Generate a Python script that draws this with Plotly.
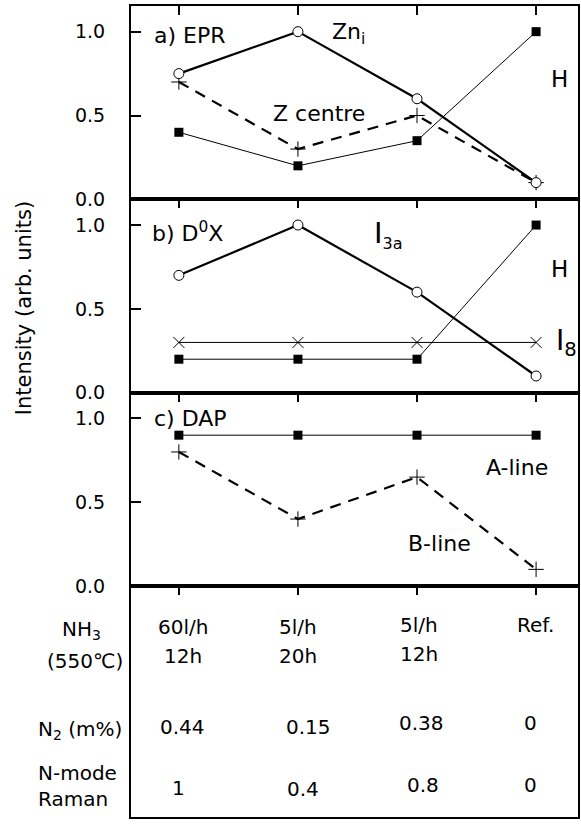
import plotly.graph_objects as go

# ---------------- data ----------------
samples = ["60l/h 12h", "5l/h 20h", "5l/h 12h", "Ref."]
xpos = [0, 1, 2, 3]

epr_zni = [0.75, 1.0, 0.6, 0.1]
epr_zcentre = [0.7, 0.3, 0.5, 0.1]
epr_h = [0.4, 0.2, 0.35, 1.0]

d0x_i3a = [0.7, 1.0, 0.6, 0.1]
d0x_i8 = [0.3, 0.3, 0.3, 0.3]
d0x_h = [0.2, 0.2, 0.2, 1.0]

dap_a = [0.9, 0.9, 0.9, 0.9]
dap_b = [0.8, 0.4, 0.65, 0.1]

nh3_flow = ["60l/h", "5l/h", "5l/h", "Ref."]
nh3_time = ["12h", "20h", "12h", ""]
n2_content = ["0.44", "0.15", "0.38", "0"]
raman_n = ["1", "0.4", "0.8", "0"]

ytick_vals = [0, 0.5, 1.0]
ytick_text = ["0.0", "0.5", "1.0"]

# ---------------- layout geometry ----------------
W, H = 581, 829
ML, MR, MT, MB = 131, 2, 6, 1
PH = H - MT - MB  # 822


def fy(py):
    return (H - MB - py) / PH


def fx(px):
    return (px - ML) / (W - ML - MR)


FONT = "DejaVu Sans"
XR = [-0.402, 3.352]
YR = [0, 1.153]

dom_a = [fy(202), 1.0]
dom_b = [fy(398), fy(202)]
dom_c = [fy(594), fy(398)]
dom_t = [0.0, fy(594)]

fig = go.Figure()

BLK = "black"


def line_trace(y, ax, width, dash, symbol, msize, mcolor, mlw):
    return go.Scatter(
        x=xpos, y=y, xaxis=ax[0], yaxis=ax[1], mode="lines+markers",
        line=dict(color=BLK, width=width, dash=dash),
        marker=dict(symbol=symbol, size=msize, color=mcolor,
                    line=dict(color=BLK, width=mlw)),
        showlegend=False, hoverinfo="skip", cliponaxis=False)


DASH = "11px,8px"
# panel a (EPR)
fig.add_trace(line_trace(epr_h, ("x", "y"), 1, "solid", "square", 9, BLK, 0))
fig.add_trace(line_trace(epr_zcentre, ("x", "y"), 2.2, DASH, "cross-thin", 11, BLK, 1))
fig.add_trace(line_trace(epr_zni, ("x", "y"), 2.2, "solid", "circle", 10, "white", 1))
# panel b (D0X)
fig.add_trace(line_trace(d0x_h, ("x2", "y2"), 1, "solid", "square", 9, BLK, 0))
fig.add_trace(line_trace(d0x_i8, ("x2", "y2"), 1, "solid", "x-thin", 11, BLK, 1))
fig.add_trace(line_trace(d0x_i3a, ("x2", "y2"), 2.2, "solid", "circle", 10, "white", 1))
# panel c (DAP)
fig.add_trace(line_trace(dap_a, ("x3", "y3"), 1, "solid", "square", 9, BLK, 0))
fig.add_trace(line_trace(dap_b, ("x3", "y3"), 2.2, DASH, "cross-thin", 11, BLK, 1))

axis_common_x = dict(range=XR, side="top", ticks="inside", ticklen=9, tickwidth=1.5,
                     tickcolor=BLK, tickvals=xpos, showticklabels=False,
                     showline=True, mirror=True, linewidth=2, linecolor=BLK,
                     showgrid=False, zeroline=False, fixedrange=True)
axis_common_y = dict(range=YR, ticks="inside", ticklen=10, tickwidth=1.5, tickcolor=BLK,
                     tickvals=ytick_vals, ticktext=ytick_text, ticklabelstandoff=20,
                     tickfont=dict(family=FONT, size=19, color=BLK),
                     showline=True, mirror=True, linewidth=2, linecolor=BLK,
                     showgrid=False, zeroline=False, fixedrange=True)

fig.update_layout(
    width=W, height=H,
    margin=dict(l=ML, r=MR, t=MT, b=MB, pad=0),
    paper_bgcolor="white", plot_bgcolor="white",
    font=dict(family=FONT, size=20, color=BLK),
    showlegend=False,
    xaxis=dict(axis_common_x, anchor="y", domain=[0, 1]),
    yaxis=dict(axis_common_y, anchor="x", domain=dom_a),
    xaxis2=dict(axis_common_x, anchor="y2", domain=[0, 1]),
    yaxis2=dict(axis_common_y, anchor="x2", domain=dom_b),
    xaxis3=dict(axis_common_x, anchor="y3", domain=[0, 1]),
    yaxis3=dict(axis_common_y, anchor="x3", domain=dom_c),
    xaxis4=dict(axis_common_x, anchor="y4", domain=[0, 1]),
    yaxis4=dict(range=[0, 1], domain=dom_t, anchor="x4", showticklabels=False,
                ticks="", showline=True, mirror=True, linewidth=2, linecolor=BLK,
                showgrid=False, zeroline=False, fixedrange=True),
)

ann = []


def A(text, x, y, xref, yref, size=22, xanchor="center", yanchor="middle", angle=0):
    ann.append(dict(text=text, x=x, y=y, xref=xref, yref=yref, showarrow=False,
                    xanchor=xanchor, yanchor=yanchor, textangle=angle,
                    font=dict(family=FONT, size=size, color=BLK)))


def dx(px):
    return (px - 179) / 119.33


# panel a labels
A("a) EPR", dx(152), (202 - 36) / 170, "x", "y", xanchor="left")
A("Zn<sub>i</sub>", dx(330), (202 - 34) / 170, "x", "y", xanchor="left")
A("Z centre", dx(271), (202 - 115) / 170, "x", "y", xanchor="left")
A("H", dx(560), (202 - 80) / 170, "x", "y", size=23)
# panel b labels
A("b) D<sup>0</sup>X", dx(150), (398 - 235) / 170, "x2", "y2", xanchor="left")
A("I<sub><span style='font-size:16px'>3a</span></sub>", dx(373), (398 - 238) / 170,
  "x2", "y2", size=29, xanchor="left")
A("H", dx(560), (398 - 273) / 170, "x2", "y2", size=23)
A("I<sub>8</sub>", dx(555), (398 - 347) / 170, "x2", "y2", size=28, xanchor="left")
# panel c labels
A("c) DAP", dx(152), (594 - 425) / 169, "x3", "y3", xanchor="left")
A("A-line", dx(518), (594 - 474) / 169, "x3", "y3")
A("B-line", dx(440), (594 - 551) / 169, "x3", "y3")

# y axis title
A("Intensity (arb. units)", fx(24), fy(312), "paper", "paper", size=21, angle=-90)

# table: row labels
A("NH<sub>3</sub>", fx(81), fy(638), "paper", "paper", size=20)
A("(550℃)", fx(85), fy(670), "paper", "paper", size=20)
A("N<sub>2</sub> (m%)", fx(80), fy(740), "paper", "paper", size=20)
A("N-mode", fx(77), fy(783), "paper", "paper", size=20)
A("Raman", fx(73), fy(810), "paper", "paper", size=20)

# table: cells
flow_px = [(183, 635), (298, 635), (420, 633), (536, 633)]
time_px = [(183, 665), (298, 665), (420, 663), (536, 663)]
n2_px = [(183, 737), (309, 737), (422, 733), (531, 733)]
ram_px = [(179, 799), (303, 800), (424, 796), (531, 796)]
for i in range(len(samples)):
    A(nh3_flow[i], dx(flow_px[i][0]), fy(flow_px[i][1]), "x4", "paper", size=20)
    if nh3_time[i]:
        A(nh3_time[i], dx(time_px[i][0]), fy(time_px[i][1]), "x4", "paper", size=20)
    A(n2_content[i], dx(n2_px[i][0]), fy(n2_px[i][1]), "x4", "paper", size=20)
    A(raman_n[i], dx(ram_px[i][0]), fy(ram_px[i][1]), "x4", "paper", size=20)

fig.update_layout(annotations=ann)

fig.write_html(
    "out.html",
    config={"displayModeBar": False},
    post_script="document.body.style.margin='0';document.body.style.overflow='hidden';",
)
